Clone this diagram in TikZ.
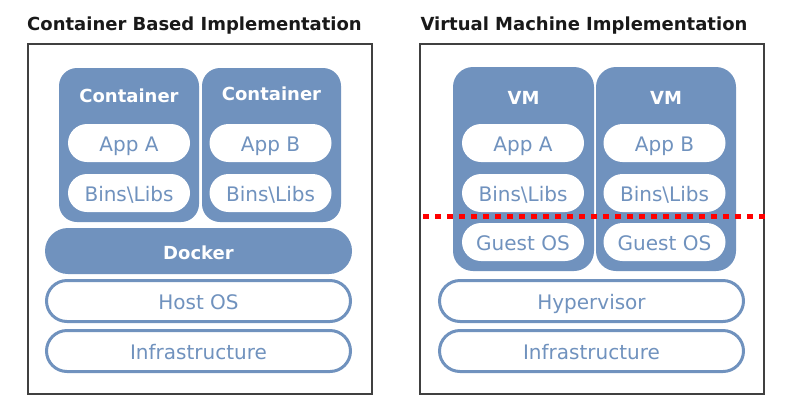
\documentclass[tikz,border=0pt]{standalone}
\usepackage{fontspec}
\setmainfont{DejaVu Sans}
\usetikzlibrary{math}
\usetikzlibrary{shapes.misc}
\definecolor{boxblue}{RGB}{112,146,190}
\definecolor{cutred}{RGB}{255,0,0}

\begin{document}
\begin{tikzpicture}[x=1pt,y=-1pt,
	frame/.style={draw=black!75,line width=2pt,minimum width=344pt,minimum height=350pt},
	box/.style={fill=boxblue,rounded corners=18pt,inner sep=0pt},
	dock/.style={rounded rectangle,fill=boxblue,inner sep=0pt,minimum width=307pt,minimum height=46pt},
	head/.style={anchor=base,text=white,font=\fontsize{18}{20}\selectfont\bfseries},
	pill/.style={rounded rectangle,fill=white,text=boxblue,minimum width=122pt,minimum height=38pt,inner sep=0pt,text height=16pt,text depth=0pt,font=\fontsize{20}{22}\selectfont},
	bar/.style={rounded rectangle,draw=boxblue,line width=3pt,fill=white,text=boxblue,minimum width=304pt,minimum height=41pt,inner sep=0pt,text height=16pt,text depth=0pt,font=\fontsize{20}{22}\selectfont},
	title/.style={anchor=base,text=black!90,font=\fontsize{18}{20}\selectfont\bfseries}]
	\tikzmath{\lx=200; \rx=592; \dy=50;
	\cax=129; \cbx=271.5;
	\vax=523.5; \vbx=666;
	\ay=143; \by=\ay+\dy; \gy=\by+49;
	\hy=301; \iy=\hy+\dy;
	}
	\useasboundingbox (0,0) rectangle (797,413);
	% titles and frames
	\node[title] (ltitle) at (194.5,30) {Container Based Implementation};
	\node[title] (rtitle) at (584,30) {Virtual Machine Implementation};
	\node[frame] (lframe) at (\lx,219) {};
	\node[frame] (rframe) at (\rx,219) {};
	% container side
	\node[box,minimum width=140pt,minimum height=154pt] (conta) at (\cax,145) {};
	\node[box,minimum width=139pt,minimum height=154pt] (contb) at (\cbx,145) {};
	\node[head] (contalbl) at (\cax,102) {Container};
	\node[head] (contblbl) at (\cbx,100) {Container};
	\node[pill] (cappa) at (\cax,\ay) {App A};
	\node[pill] (cappb) at (\cbx-1,\ay) {App B};
	\node[pill] (cbinsa) at (\cax,\by) {Bins\textbackslash Libs};
	\node[pill] (cbinsb) at (\cbx-1,\by) {Bins\textbackslash Libs};
	\node[dock] (docker) at (198.5,251) {};
	\node[head] (dockerlbl) at (198.5,259) {Docker};
	\node[bar] (host) at (198.5,\hy) {Host OS};
	\node[bar] (cinfra) at (198.5,\iy) {Infrastructure};
	% vm side
	\node[box,rounded corners=20pt,minimum width=141pt,minimum height=204pt] (vma) at (\vax,169) {};
	\node[box,rounded corners=20pt,minimum width=140pt,minimum height=204pt] (vmb) at (\vbx,169) {};
	\node[head] (vmalbl) at (\vax,104) {VM};
	\node[head] (vmblbl) at (\vbx,104) {VM};
	\node[pill] (vappa) at (\vax-0.5,\ay) {App A};
	\node[pill] (vappb) at (\vbx-1.5,\ay) {App B};
	\node[pill] (vbinsa) at (\vax-0.5,\by) {Bins\textbackslash Libs};
	\node[pill] (vbinsb) at (\vbx-1.5,\by) {Bins\textbackslash Libs};
	\node[pill] (guesta) at (\vax-0.5,\gy) {Guest OS};
	\node[pill] (guestb) at (\vbx-1.5,\gy) {Guest OS};
	\node[bar] (hyper) at (591.5,\hy) {Hypervisor};
	\node[bar] (vinfra) at (591.5,\iy) {Infrastructure};
	% cut line
	\coordinate (cutl) at (423,216);
	\coordinate (cutr) at (765,216);
	\draw[cutred,line width=5pt,dash pattern=on 6pt off 6pt] (cutl) -- (cutr);
\end{tikzpicture}
\end{document}
